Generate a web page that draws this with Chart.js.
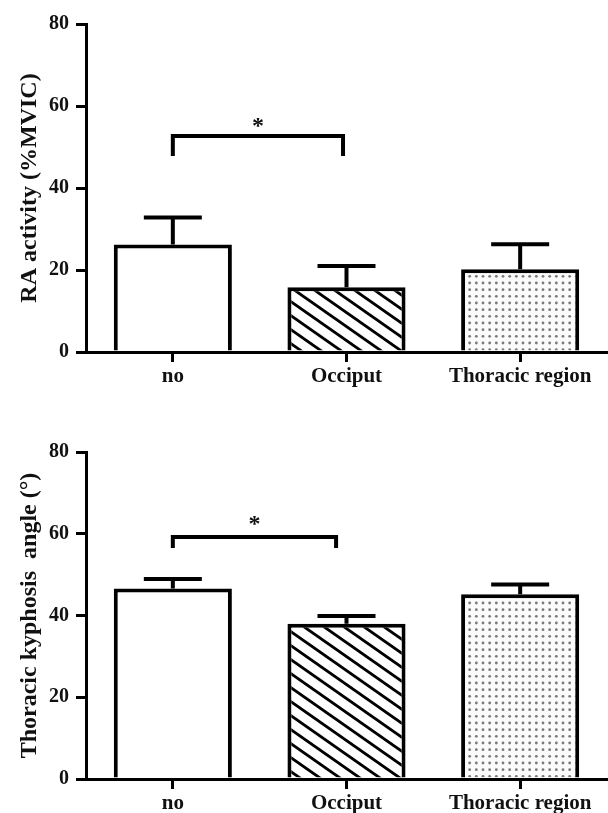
<!DOCTYPE html>
<html>
<head>
<meta charset="utf-8">
<script src="https://cdn.jsdelivr.net/npm/chart.js@4.4.0/dist/chart.umd.min.js"></script>
<style>
  body { margin: 0; background: #fff; }
  .panel { position: absolute; left: 0; width: 608px; }
</style>
</head>
<body>
<div class="panel" style="top:0;height:400px"><canvas id="raChart" width="608" height="400"></canvas></div>
<div class="panel" style="top:400px;height:413px"><canvas id="kyphChart" width="608" height="413"></canvas></div>
<script>
const categories = ['no', 'Occiput', 'Thoracic region'];
const yMin = 0;
const yMax = 80;
const yStep = 20;

// upper panel: RA activity
const raMeans = [26.2, 15.8, 20.2];
const raErrors = [6.6, 5.2, 6.1];
const raSig = { from: 0, to: 0.98, top: 52.7, foot: 47.8, star: 55.9 };

// lower panel: thoracic kyphosis angle
const kyphMeans = [46.6, 38.0, 45.2];
const kyphErrors = [2.3, 1.9, 2.4];
const kyphSig = { from: 0, to: 0.94, top: 59.2, foot: 56.5, star: 63.3 };

const serif = "'Liberation Serif', 'Times New Roman', serif";
Chart.defaults.font.family = serif;
Chart.defaults.color = '#111';

function hatchPattern() {
    const w = 20, h = 14;
    const c = document.createElement('canvas');
    c.width = w; c.height = h;
    const g = c.getContext('2d');
    g.fillStyle = '#fff';
    g.fillRect(0, 0, w, h);
    g.strokeStyle = '#000';
    g.lineWidth = 2.8;
    for (const dx of [-w, 0, w]) {
        g.beginPath();
        g.moveTo(dx - w, -h);
        g.lineTo(dx + 2 * w, 2 * h);
        g.stroke();
    }
    return g.createPattern(c, 'repeat');
}

function dotPattern() {
    const s = 20;
    const c = document.createElement('canvas');
    c.width = s; c.height = s;
    const g = c.getContext('2d');
    g.fillStyle = '#fbfbfb';
    g.fillRect(0, 0, s, s);
    g.fillStyle = '#7a7a7a';
    for (let i = 0; i < 3; i++) {
        for (let j = 0; j < 3; j++) {
            g.beginPath();
            g.arc(3 + i * s / 3, 3 + j * s / 3, 1.4, 0, Math.PI * 2);
            g.fill();
        }
    }
    return g.createPattern(c, 'repeat');
}

function extras(errors, sig) {
    return {
        id: 'extras',
        afterDatasetsDraw(chart) {
            const ctx = chart.ctx;
            const xs = chart.scales.x, ys = chart.scales.y;
            const ds = chart.data.datasets[0];
            const meta = chart.getDatasetMeta(0);
            ctx.save();
            ctx.strokeStyle = '#000';
            ctx.lineWidth = 4;
            meta.data.forEach((bar, i) => {
                const yCap = ys.getPixelForValue(ds.data[i] + errors[i]);
                ctx.beginPath();
                ctx.moveTo(bar.x, bar.y);
                ctx.lineTo(bar.x, yCap);
                ctx.moveTo(bar.x - 29, yCap);
                ctx.lineTo(bar.x + 29, yCap);
                ctx.stroke();
            });
            const x0 = xs.getPixelForValue(sig.from);
            const x1 = xs.getPixelForValue(sig.to);
            const yt = ys.getPixelForValue(sig.top);
            const yf = ys.getPixelForValue(sig.foot);
            ctx.beginPath();
            ctx.moveTo(x0, yf);
            ctx.lineTo(x0, yt);
            ctx.lineTo(x1, yt);
            ctx.lineTo(x1, yf);
            ctx.stroke();
            ctx.font = 'bold 24px ' + serif;
            ctx.fillStyle = '#111';
            ctx.textAlign = 'center';
            ctx.textBaseline = 'alphabetic';
            const m = ctx.measureText('*');
            const ys0 = ys.getPixelForValue(sig.star);
            ctx.fillText('*', (x0 + x1) / 2, ys0 + (m.actualBoundingBoxAscent - m.actualBoundingBoxDescent) / 2);
            ctx.restore();
        }
    };
}

function makeChart(id, means, errors, sig, title, topPad, axisHeight) {
    const config = {
        type: 'bar',
        data: {
            labels: categories,
            datasets: [{
                data: means,
                backgroundColor: ['#fff', hatchPattern(), dotPattern()],
                borderColor: '#000',
                borderWidth: 4,
                barPercentage: 0.68,
                categoryPercentage: 1
            }]
        },
        options: {
            responsive: false,
            animation: false,
            devicePixelRatio: 1,
            layout: { padding: { top: topPad, right: 1, left: 0, bottom: 0 } },
            plugins: { legend: { display: false }, tooltip: { enabled: false } },
            scales: {
                x: {
                    afterFit: s => { s.height = axisHeight; },
                    border: { display: true, color: '#000', width: 3 },
                    grid: { offset: false, drawOnChartArea: false, drawTicks: true, tickLength: 10, lineWidth: 3, color: '#000' },
                    ticks: { padding: 2, color: '#111', font: { size: 21, weight: 'bold' } }
                },
                y: {
                    min: yMin,
                    max: yMax,
                    afterFit: s => { s.width = 86; },
                    border: { display: true, color: '#000', width: 3 },
                    grid: { drawOnChartArea: false, drawTicks: true, tickLength: 10, lineWidth: 3, color: '#000' },
                    ticks: { stepSize: yStep, padding: 7, color: '#111', font: { size: 20, weight: 'bold' } },
                    title: {
                        display: true,
                        text: title,
                        color: '#111',
                        padding: { top: 15, bottom: 0 },
                        font: { size: 24, weight: 'bold' }
                    }
                }
            }
        },
        plugins: [extras(errors, sig)]
    };
    return new Chart(document.getElementById(id), config);
}

makeChart('raChart', raMeans, raErrors, raSig, 'RA activity (%MVIC)', 24, 48);
makeChart('kyphChart', kyphMeans, kyphErrors, kyphSig, 'Thoracic kyphosis  angle (°)', 52, 34);
</script>
</body>
</html>
